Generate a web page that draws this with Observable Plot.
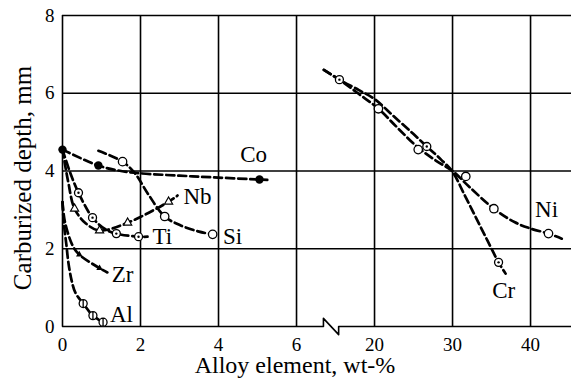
<!DOCTYPE html>
<html><head><meta charset="utf-8">
<script src="https://cdn.jsdelivr.net/npm/d3@7"></script>
<script src="https://cdn.jsdelivr.net/npm/@observablehq/plot@0.6"></script>
<style>
body{margin:0;background:#fff}
svg{display:block}
svg, svg text{font-family:"Liberation Serif","Times New Roman","DejaVu Serif",serif !important}
</style>
</head><body><div id="chart"></div>
<script>
// ---- data (x in wt-%, y in mm) ----
// left part of the broken axis: 0–6 wt-%
const coLine = [[0,4.55],[0.92,4.14],[1.5,4.0],[2,3.94],[3,3.88],[4,3.83],[5.05,3.78],[5.25,3.77]];
const coPoints = [[0,4.55],[0.92,4.14],[5.05,3.78]];
const siLine = [[0.92,4.52],[1.54,4.24],[1.85,3.95],[2.2,3.4],[2.62,2.83],[3.03,2.6],[3.5,2.44],[3.85,2.37]];
const siPoints = [[1.54,4.24],[2.62,2.83],[3.85,2.37]];
const tiLine = [[0,4.55],[0.2,3.95],[0.41,3.44],[0.77,2.8],[1.1,2.5],[1.38,2.39],[1.95,2.31],[2.18,2.31]];
const tiPoints = [[0.41,3.44],[0.77,2.8],[1.38,2.39],[1.95,2.31]];
const nbLine = [[0,4.55],[0.15,3.7],[0.31,3.03],[0.6,2.65],[0.95,2.47],[1.67,2.67],[2.72,3.21],[2.95,3.37]];
const nbPoints = [[0.31,3.03],[0.95,2.47],[1.67,2.67],[2.72,3.21]];
const zrLine = [[0,3.2],[0.06,2.7],[0.26,2.08],[0.43,1.85],[0.95,1.5],[1.15,1.39]];
const zrPoints = [[0.43,1.85],[0.95,1.5]];
const alLine = [[0,3.2],[0.04,2.6],[0.1,2.1],[0.15,1.65],[0.23,1.2],[0.33,0.87],[0.53,0.59],[0.78,0.28],[1.04,0.11]];
const alPoints = [[0.53,0.59],[0.78,0.28],[1.04,0.11]];
// right part of the broken axis: 20–45 wt-%
const crLine = [[13.5,6.6],[15.5,6.35],[18,6.08],[20,5.85],[22.5,5.4],[25,4.95],[26.7,4.63],[28.5,4.3],[30,3.98],[31.5,3.4],[33,2.8],[34.5,2.2],[35.9,1.65],[36.8,1.36]];
const crPoints = [[15.5,6.35],[26.7,4.63],[35.9,1.65]];
const niLine = [[13.5,6.6],[15.5,6.35],[18,5.98],[20.5,5.6],[23,5.1],[25.6,4.6],[28,4.25],[30,4.0],[32,3.62],[35.3,3.03],[38,2.68],[40,2.52],[42.3,2.39],[44,2.26]];
const niPoints = [[20.5,5.6],[25.6,4.55],[31.7,3.86],[35.3,3.03],[42.3,2.39]];

const xTickValues = [0, 2, 4, 6, 20, 30, 40];
const xTickLabels = ["0", "2", "4", "6", "20", "30", "40"];
const xTickSegments = ["left", "left", "left", "left", "right", "right", "right"];
const yTicks = [0, 2, 4, 6, 8];
const xMaxRight = 45.25;

const seriesLabels = [
  {name: "Co", seg: "left", x: 4.9, y: 4.42},
  {name: "Nb", seg: "left", x: 3.46, y: 3.33},
  {name: "Si", seg: "left", x: 4.36, y: 2.31},
  {name: "Ti", seg: "left", x: 2.56, y: 2.31},
  {name: "Zr", seg: "left", x: 1.54, y: 1.34},
  {name: "Al", seg: "left", x: 1.51, y: 0.31},
  {name: "Ni", seg: "right", x: 42.05, y: 3.01},
  {name: "Cr", seg: "right", x: 36.55, y: 0.93}
];

// ---- broken-axis mapping: wt-% -> axis units ----
const toAxis = (x, seg) => seg === "left" ? x : 8 + (x - 20) / 5;
const uMax = toAxis(xMaxRight, "right");

const series = [
  {name: "Co", seg: "left", line: coLine, pts: coPoints},
  {name: "Si", seg: "left", line: siLine, pts: siPoints},
  {name: "Ti", seg: "left", line: tiLine, pts: tiPoints},
  {name: "Nb", seg: "left", line: nbLine, pts: nbPoints},
  {name: "Zr", seg: "left", line: zrLine, pts: zrPoints},
  {name: "Al", seg: "left", line: alLine, pts: alPoints},
  {name: "Cr", seg: "right", line: crLine, pts: crPoints},
  {name: "Ni", seg: "right", line: niLine, pts: niPoints}
];
const lineRows = series.flatMap(s => s.line.map(([x, y]) => ({series: s.name, u: toAxis(x, s.seg), y})));
const ptRows = series.flatMap(s => s.pts.map(([x, y]) => ({series: s.name, u: toAxis(x, s.seg), y})));
const pick = (...names) => ptRows.filter(d => names.includes(d.series));

const tickU = xTickValues.map((v, i) => toAxis(v, xTickSegments[i]));
const tickLabelOf = new Map(tickU.map((u, i) => [u, xTickLabels[i]]));

// break symbol on the bottom axis (axis units, mm)
const breakStart = 6.69, breakEnd = 7.08, breakH = 0.21;
const bottomAxis = [[0,0],[breakStart,0],[breakStart,breakH],[breakEnd,-breakH],[breakEnd,0],[uMax,0]];

// custom marker shapes
const circleBar = {draw(ctx, size) {
  const r = Math.sqrt(size / Math.PI);
  ctx.moveTo(r, 0); ctx.arc(0, 0, r, 0, 2 * Math.PI);
  ctx.moveTo(0, -r); ctx.lineTo(0, r);
}};
const arrowTri = {draw(ctx, size) {
  const r = Math.sqrt(size / Math.PI) * 1.25, a = 30 * Math.PI / 180;
  for (let k = 0; k < 3; k++) {
    const t = a + k * 2 * Math.PI / 3;
    const px = r * Math.cos(t), py = r * Math.sin(t);
    k === 0 ? ctx.moveTo(px, py) : ctx.lineTo(px, py);
  }
  ctx.closePath();
}};

const font = "Liberation Serif";
const chart = Plot.plot({
  width: 571, height: 384,
  marginLeft: 62, marginRight: 0, marginTop: 15, marginBottom: 58,
  style: {fontFamily: font, fontSize: "19px", color: "black", background: "white"},
  x: {domain: [0, uMax], ticks: tickU, tickFormat: d => tickLabelOf.get(d) ?? "", tickSize: 0, tickPadding: 11, label: null},
  y: {domain: [0, 8], ticks: yTicks, tickSize: 0, tickPadding: 8, label: null},
  marks: [
    Plot.ruleX(tickU, {y1: 0, y2: 8, stroke: "black", strokeWidth: 1.6}),
    Plot.ruleY([2, 4, 6, 8], {x1: 0, x2: uMax, stroke: "black", strokeWidth: 1.6}),
    Plot.line(bottomAxis, {x: d => d[0], y: d => d[1], stroke: "black", strokeWidth: 1.6}),
    Plot.line(lineRows, {x: "u", y: "y", z: "series", curve: "catmull-rom", stroke: "black", strokeWidth: 2.7, strokeDasharray: "8,4"}),
    // Co: filled circles
    Plot.dot(pick("Co"), {x: "u", y: "y", r: 4.2, fill: "black", stroke: "none"}),
    // Si, Ni: open circles
    Plot.dot(pick("Si", "Ni"), {x: "u", y: "y", r: 4.2, fill: "white", stroke: "black", strokeWidth: 1.3}),
    // Ti, Cr: circle with centre dot
    Plot.dot(pick("Ti", "Cr"), {x: "u", y: "y", r: 4, fill: "white", stroke: "black", strokeWidth: 1.3}),
    Plot.dot(pick("Ti", "Cr"), {x: "u", y: "y", r: 1.2, fill: "black", stroke: "none"}),
    // Nb: open triangles
    Plot.dot(pick("Nb"), {x: "u", y: "y", r: 3, symbol: "triangle", fill: "white", stroke: "black", strokeWidth: 1.2}),
    // Zr: filled arrow-like triangles
    Plot.dot(pick("Zr"), {x: "u", y: "y", r: 3, symbol: arrowTri, fill: "black", stroke: "none"}),
    // Al: circle with vertical bar
    Plot.dot(pick("Al"), {x: "u", y: "y", r: 4, symbol: circleBar, fill: "white", stroke: "black", strokeWidth: 1.3}),
    // series labels
    Plot.text(seriesLabels, {x: d => toAxis(d.x, d.seg), y: "y", text: "name", fontSize: 23, fontFamily: font, fill: "black"}),
    // axis titles
    Plot.text(["Alloy element, wt-%"], {text: d => d, frameAnchor: "bottom", textAnchor: "middle", dx: -22, dy: 46, fontSize: 24, fontFamily: font, fill: "black"}),
    Plot.text(["Carburized depth, mm"], {text: d => d, frameAnchor: "left", textAnchor: "middle", dx: -40, dy: 7, rotate: -90, fontSize: 25, fontFamily: font, fill: "black"})
  ]
});
document.getElementById("chart").appendChild(chart);
</script>
</body></html>
